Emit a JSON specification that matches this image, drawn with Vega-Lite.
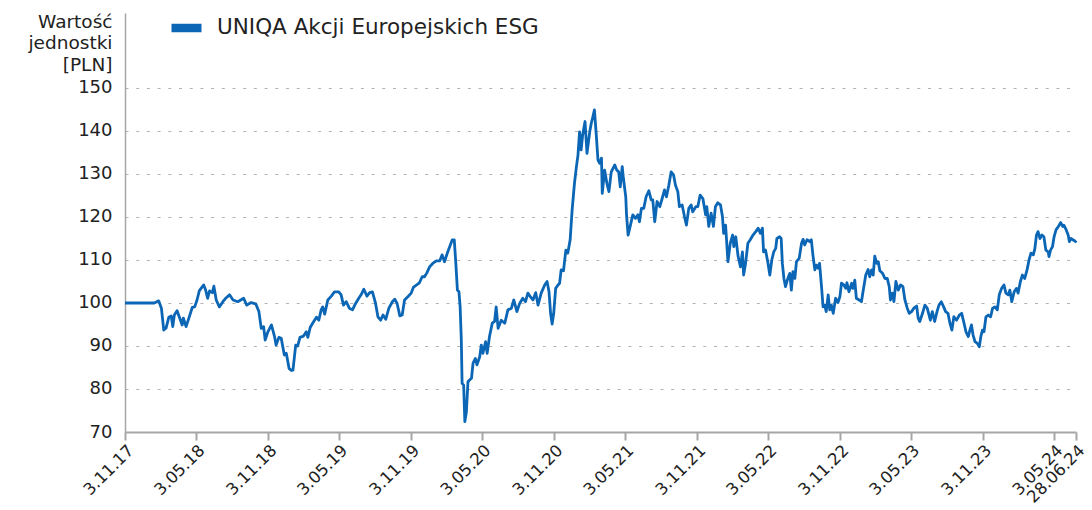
{
  "$schema": "https://vega.github.io/schema/vega-lite/v6.json",
  "width": 951,
  "height": 419,
  "autosize": {"type": "none"},
  "padding": {"left": 125, "top": 13, "right": 16, "bottom": 78},
  "background": "white",
  "config": {"view": {"stroke": null}, "font": "DejaVu Sans"},
  "data": {"values": [
    {"d": "2017-11-03", "v": 100}, {"d": "2017-12-01", "v": 100}, {"d": "2018-01-01", "v": 100}, {"d": "2018-01-17", "v": 100},
    {"d": "2018-01-28", "v": 100.5}, {"d": "2018-02-04", "v": 98.8}, {"d": "2018-02-10", "v": 93.7}, {"d": "2018-02-16", "v": 94.2},
    {"d": "2018-02-23", "v": 96.7}, {"d": "2018-03-01", "v": 97}, {"d": "2018-03-05", "v": 94.5}, {"d": "2018-03-09", "v": 97.2},
    {"d": "2018-03-16", "v": 98.2}, {"d": "2018-03-22", "v": 96.7}, {"d": "2018-03-29", "v": 94.9}, {"d": "2018-04-01", "v": 96.5},
    {"d": "2018-04-08", "v": 94.5}, {"d": "2018-04-17", "v": 97}, {"d": "2018-04-24", "v": 99}, {"d": "2018-04-30", "v": 99.1},
    {"d": "2018-05-06", "v": 100.7}, {"d": "2018-05-12", "v": 102.9}, {"d": "2018-05-23", "v": 104.2}, {"d": "2018-05-28", "v": 103},
    {"d": "2018-06-02", "v": 101.1}, {"d": "2018-06-07", "v": 102.8}, {"d": "2018-06-14", "v": 102.4}, {"d": "2018-06-18", "v": 103.9},
    {"d": "2018-06-24", "v": 100.7}, {"d": "2018-07-02", "v": 99.1}, {"d": "2018-07-11", "v": 100.3}, {"d": "2018-07-18", "v": 101.1},
    {"d": "2018-07-28", "v": 101.9}, {"d": "2018-08-06", "v": 100.7}, {"d": "2018-08-18", "v": 100.3}, {"d": "2018-09-02", "v": 101.1},
    {"d": "2018-09-10", "v": 99.5}, {"d": "2018-09-21", "v": 100.1}, {"d": "2018-10-03", "v": 99.8}, {"d": "2018-10-11", "v": 98},
    {"d": "2018-10-17", "v": 94.1}, {"d": "2018-10-23", "v": 94.5}, {"d": "2018-10-27", "v": 91.4}, {"d": "2018-11-03", "v": 93.3},
    {"d": "2018-11-12", "v": 94.9}, {"d": "2018-11-20", "v": 92.2}, {"d": "2018-11-24", "v": 90.2}, {"d": "2018-12-01", "v": 92},
    {"d": "2018-12-07", "v": 91.8}, {"d": "2018-12-15", "v": 87.9}, {"d": "2018-12-20", "v": 88.3}, {"d": "2018-12-27", "v": 84.8},
    {"d": "2019-01-02", "v": 84.3}, {"d": "2019-01-06", "v": 84.4}, {"d": "2019-01-13", "v": 90.2}, {"d": "2019-01-18", "v": 90},
    {"d": "2019-01-24", "v": 92}, {"d": "2019-02-02", "v": 92.3}, {"d": "2019-02-09", "v": 93.3}, {"d": "2019-02-13", "v": 92},
    {"d": "2019-02-19", "v": 94.3}, {"d": "2019-02-26", "v": 95.4}, {"d": "2019-03-07", "v": 96.7}, {"d": "2019-03-13", "v": 96},
    {"d": "2019-03-19", "v": 98.4}, {"d": "2019-03-23", "v": 99.1}, {"d": "2019-03-28", "v": 97.4}, {"d": "2019-04-05", "v": 100.7},
    {"d": "2019-04-14", "v": 101.6}, {"d": "2019-04-22", "v": 102.6}, {"d": "2019-05-03", "v": 102.6}, {"d": "2019-05-09", "v": 101.9},
    {"d": "2019-05-15", "v": 99.5}, {"d": "2019-05-22", "v": 100.3}, {"d": "2019-05-30", "v": 98.8}, {"d": "2019-06-07", "v": 98.4},
    {"d": "2019-06-15", "v": 99.9}, {"d": "2019-06-23", "v": 101.1}, {"d": "2019-06-29", "v": 101.9}, {"d": "2019-07-06", "v": 103.2},
    {"d": "2019-07-14", "v": 101.6}, {"d": "2019-07-21", "v": 102.4}, {"d": "2019-07-28", "v": 102.6}, {"d": "2019-08-05", "v": 99.9},
    {"d": "2019-08-11", "v": 96.8}, {"d": "2019-08-18", "v": 96}, {"d": "2019-08-24", "v": 97.2}, {"d": "2019-08-31", "v": 96.2},
    {"d": "2019-09-08", "v": 98.8}, {"d": "2019-09-17", "v": 100.3}, {"d": "2019-09-23", "v": 100.9}, {"d": "2019-09-29", "v": 99.9},
    {"d": "2019-10-06", "v": 97}, {"d": "2019-10-12", "v": 97.2}, {"d": "2019-10-18", "v": 100.7}, {"d": "2019-10-27", "v": 101.5},
    {"d": "2019-11-04", "v": 102.3}, {"d": "2019-11-10", "v": 103.7}, {"d": "2019-11-18", "v": 104.2}, {"d": "2019-11-25", "v": 104.7},
    {"d": "2019-12-02", "v": 106.1}, {"d": "2019-12-08", "v": 106.1}, {"d": "2019-12-14", "v": 107}, {"d": "2019-12-21", "v": 108.4},
    {"d": "2019-12-29", "v": 109.2}, {"d": "2020-01-07", "v": 109.8}, {"d": "2020-01-16", "v": 109.8}, {"d": "2020-01-22", "v": 111.2},
    {"d": "2020-01-28", "v": 109.6}, {"d": "2020-02-05", "v": 111.8}, {"d": "2020-02-17", "v": 114.7}, {"d": "2020-02-22", "v": 114.7},
    {"d": "2020-02-26", "v": 109.2}, {"d": "2020-03-01", "v": 103}, {"d": "2020-03-05", "v": 102.6}, {"d": "2020-03-08", "v": 99.1},
    {"d": "2020-03-11", "v": 91.4}, {"d": "2020-03-13", "v": 81.3}, {"d": "2020-03-17", "v": 80.9}, {"d": "2020-03-20", "v": 72.4},
    {"d": "2020-03-24", "v": 74.7}, {"d": "2020-03-28", "v": 81.7}, {"d": "2020-04-01", "v": 82.1}, {"d": "2020-04-06", "v": 82.5},
    {"d": "2020-04-10", "v": 86}, {"d": "2020-04-16", "v": 87.1}, {"d": "2020-04-20", "v": 85.6}, {"d": "2020-04-27", "v": 87.5},
    {"d": "2020-05-01", "v": 90.2}, {"d": "2020-05-05", "v": 88.3}, {"d": "2020-05-12", "v": 91}, {"d": "2020-05-16", "v": 88.3},
    {"d": "2020-05-22", "v": 92.2}, {"d": "2020-05-29", "v": 95.3}, {"d": "2020-06-04", "v": 95.7}, {"d": "2020-06-08", "v": 99.1},
    {"d": "2020-06-13", "v": 94.1}, {"d": "2020-06-21", "v": 96}, {"d": "2020-06-30", "v": 95.3}, {"d": "2020-07-08", "v": 98.4},
    {"d": "2020-07-17", "v": 98.8}, {"d": "2020-07-23", "v": 100.7}, {"d": "2020-07-31", "v": 98}, {"d": "2020-08-07", "v": 99.9},
    {"d": "2020-08-15", "v": 101.1}, {"d": "2020-08-22", "v": 100.3}, {"d": "2020-08-28", "v": 102.3}, {"d": "2020-09-03", "v": 101.5},
    {"d": "2020-09-10", "v": 100.7}, {"d": "2020-09-17", "v": 102.4}, {"d": "2020-09-23", "v": 99.5}, {"d": "2020-10-01", "v": 102.3},
    {"d": "2020-10-10", "v": 104.2}, {"d": "2020-10-16", "v": 105}, {"d": "2020-10-21", "v": 102.6}, {"d": "2020-10-25", "v": 97.6},
    {"d": "2020-10-29", "v": 95.1}, {"d": "2020-11-02", "v": 97.6}, {"d": "2020-11-07", "v": 103.4}, {"d": "2020-11-13", "v": 104.2},
    {"d": "2020-11-17", "v": 104.6}, {"d": "2020-11-21", "v": 107.7}, {"d": "2020-11-27", "v": 107.5}, {"d": "2020-12-03", "v": 112.3},
    {"d": "2020-12-08", "v": 111.6}, {"d": "2020-12-14", "v": 114.7}, {"d": "2020-12-19", "v": 121.6}, {"d": "2020-12-25", "v": 127.8},
    {"d": "2020-12-30", "v": 131.7}, {"d": "2021-01-03", "v": 134.4}, {"d": "2021-01-07", "v": 139.8}, {"d": "2021-01-11", "v": 135.6},
    {"d": "2021-01-15", "v": 139.1}, {"d": "2021-01-21", "v": 142.2}, {"d": "2021-01-26", "v": 134.8}, {"d": "2021-02-02", "v": 139.8},
    {"d": "2021-02-06", "v": 141.8}, {"d": "2021-02-10", "v": 143.3}, {"d": "2021-02-14", "v": 144.9}, {"d": "2021-02-19", "v": 138.7},
    {"d": "2021-02-23", "v": 133.3}, {"d": "2021-02-27", "v": 132.5}, {"d": "2021-03-04", "v": 133.7}, {"d": "2021-03-06", "v": 125.5},
    {"d": "2021-03-12", "v": 130.9}, {"d": "2021-03-18", "v": 127.8}, {"d": "2021-03-23", "v": 125.9}, {"d": "2021-03-29", "v": 130.5},
    {"d": "2021-04-07", "v": 132.1}, {"d": "2021-04-12", "v": 130.9}, {"d": "2021-04-17", "v": 130.5}, {"d": "2021-04-21", "v": 127},
    {"d": "2021-04-26", "v": 131.7}, {"d": "2021-04-29", "v": 129}, {"d": "2021-05-05", "v": 124.7}, {"d": "2021-05-07", "v": 120.5},
    {"d": "2021-05-11", "v": 115.8}, {"d": "2021-05-17", "v": 118.1}, {"d": "2021-05-23", "v": 120.5}, {"d": "2021-05-30", "v": 119.7},
    {"d": "2021-06-05", "v": 120.5}, {"d": "2021-06-09", "v": 118.9}, {"d": "2021-06-14", "v": 122}, {"d": "2021-06-20", "v": 122},
    {"d": "2021-06-26", "v": 124.7}, {"d": "2021-07-03", "v": 126.1}, {"d": "2021-07-09", "v": 124}, {"d": "2021-07-13", "v": 124},
    {"d": "2021-07-18", "v": 118.9}, {"d": "2021-07-24", "v": 123.6}, {"d": "2021-07-31", "v": 122.4}, {"d": "2021-08-06", "v": 124.3},
    {"d": "2021-08-12", "v": 126.3}, {"d": "2021-08-17", "v": 124.7}, {"d": "2021-08-23", "v": 127.4}, {"d": "2021-08-29", "v": 130.5},
    {"d": "2021-09-04", "v": 129.8}, {"d": "2021-09-09", "v": 127.4}, {"d": "2021-09-15", "v": 125.9}, {"d": "2021-09-19", "v": 122.4},
    {"d": "2021-09-26", "v": 122.8}, {"d": "2021-10-02", "v": 120.1}, {"d": "2021-10-07", "v": 118.1}, {"d": "2021-10-13", "v": 122},
    {"d": "2021-10-19", "v": 122.8}, {"d": "2021-10-23", "v": 121.2}, {"d": "2021-10-31", "v": 122.4}, {"d": "2021-11-05", "v": 122.4},
    {"d": "2021-11-11", "v": 125.1}, {"d": "2021-11-18", "v": 124.3}, {"d": "2021-11-25", "v": 120.5}, {"d": "2021-11-28", "v": 122.4},
    {"d": "2021-12-03", "v": 117.8}, {"d": "2021-12-09", "v": 120.9}, {"d": "2021-12-15", "v": 117.8}, {"d": "2021-12-20", "v": 122.4},
    {"d": "2021-12-26", "v": 123.3}, {"d": "2022-01-02", "v": 122.8}, {"d": "2022-01-07", "v": 120.1}, {"d": "2022-01-10", "v": 116.2},
    {"d": "2022-01-15", "v": 118.1}, {"d": "2022-01-21", "v": 109.6}, {"d": "2022-01-27", "v": 113.9}, {"d": "2022-02-02", "v": 115.8},
    {"d": "2022-02-05", "v": 113.1}, {"d": "2022-02-10", "v": 115.4}, {"d": "2022-02-16", "v": 110.8}, {"d": "2022-02-22", "v": 108.4},
    {"d": "2022-02-27", "v": 111.9}, {"d": "2022-03-02", "v": 106.5}, {"d": "2022-03-07", "v": 109.2}, {"d": "2022-03-13", "v": 113.9},
    {"d": "2022-03-19", "v": 114.7}, {"d": "2022-03-26", "v": 115.8}, {"d": "2022-04-02", "v": 116.6}, {"d": "2022-04-08", "v": 117.4},
    {"d": "2022-04-14", "v": 116.2}, {"d": "2022-04-19", "v": 117.4}, {"d": "2022-04-22", "v": 111.9}, {"d": "2022-04-27", "v": 112.3},
    {"d": "2022-05-03", "v": 109.4}, {"d": "2022-05-08", "v": 106.5}, {"d": "2022-05-13", "v": 110}, {"d": "2022-05-18", "v": 111.9},
    {"d": "2022-05-23", "v": 112.7}, {"d": "2022-05-26", "v": 115}, {"d": "2022-06-02", "v": 115.4}, {"d": "2022-06-06", "v": 115},
    {"d": "2022-06-09", "v": 109.2}, {"d": "2022-06-13", "v": 105.7}, {"d": "2022-06-17", "v": 103.8}, {"d": "2022-06-23", "v": 105.7},
    {"d": "2022-06-28", "v": 106.9}, {"d": "2022-07-02", "v": 103}, {"d": "2022-07-06", "v": 107.3}, {"d": "2022-07-11", "v": 105.7},
    {"d": "2022-07-15", "v": 109.6}, {"d": "2022-07-22", "v": 110.4}, {"d": "2022-07-28", "v": 113.9}, {"d": "2022-08-01", "v": 114.8},
    {"d": "2022-08-05", "v": 113.5}, {"d": "2022-08-11", "v": 114.7}, {"d": "2022-08-18", "v": 114.3}, {"d": "2022-08-22", "v": 114.7},
    {"d": "2022-08-26", "v": 111.2}, {"d": "2022-08-31", "v": 107.7}, {"d": "2022-09-04", "v": 108.8}, {"d": "2022-09-08", "v": 108.1},
    {"d": "2022-09-12", "v": 109.2}, {"d": "2022-09-17", "v": 103.8}, {"d": "2022-09-21", "v": 99.1}, {"d": "2022-09-25", "v": 99.5},
    {"d": "2022-09-29", "v": 98}, {"d": "2022-10-04", "v": 101.9}, {"d": "2022-10-08", "v": 98.4}, {"d": "2022-10-12", "v": 99.5},
    {"d": "2022-10-17", "v": 97.6}, {"d": "2022-10-23", "v": 101.1}, {"d": "2022-10-29", "v": 100.1}, {"d": "2022-11-03", "v": 101.5},
    {"d": "2022-11-07", "v": 104.6}, {"d": "2022-11-13", "v": 104.2}, {"d": "2022-11-18", "v": 103.4}, {"d": "2022-11-21", "v": 104.7},
    {"d": "2022-11-26", "v": 102.6}, {"d": "2022-12-03", "v": 104.6}, {"d": "2022-12-06", "v": 103.4}, {"d": "2022-12-11", "v": 105.3},
    {"d": "2022-12-15", "v": 101.1}, {"d": "2022-12-22", "v": 100.7}, {"d": "2022-12-28", "v": 100.3}, {"d": "2023-01-01", "v": 102.6},
    {"d": "2023-01-08", "v": 106.5}, {"d": "2023-01-14", "v": 107.8}, {"d": "2023-01-18", "v": 106.1}, {"d": "2023-01-23", "v": 107.7},
    {"d": "2023-01-27", "v": 106.5}, {"d": "2023-01-31", "v": 110.9}, {"d": "2023-02-05", "v": 109.2}, {"d": "2023-02-09", "v": 109.6},
    {"d": "2023-02-13", "v": 107.5}, {"d": "2023-02-20", "v": 106.9}, {"d": "2023-02-26", "v": 105.7}, {"d": "2023-03-04", "v": 105.7},
    {"d": "2023-03-09", "v": 103.8}, {"d": "2023-03-12", "v": 100.7}, {"d": "2023-03-17", "v": 102.3}, {"d": "2023-03-21", "v": 100.3},
    {"d": "2023-03-26", "v": 105}, {"d": "2023-04-01", "v": 103}, {"d": "2023-04-07", "v": 104.2}, {"d": "2023-04-13", "v": 103.8},
    {"d": "2023-04-18", "v": 100.7}, {"d": "2023-04-24", "v": 98.8}, {"d": "2023-04-29", "v": 97.6}, {"d": "2023-05-05", "v": 98},
    {"d": "2023-05-11", "v": 98.8}, {"d": "2023-05-18", "v": 99.3}, {"d": "2023-05-22", "v": 96.4}, {"d": "2023-05-26", "v": 95.7},
    {"d": "2023-06-02", "v": 97.6}, {"d": "2023-06-08", "v": 99.5}, {"d": "2023-06-14", "v": 98.8}, {"d": "2023-06-22", "v": 96},
    {"d": "2023-06-27", "v": 98}, {"d": "2023-07-03", "v": 95.7}, {"d": "2023-07-09", "v": 98}, {"d": "2023-07-14", "v": 99.5},
    {"d": "2023-07-20", "v": 100.3}, {"d": "2023-07-26", "v": 99.1}, {"d": "2023-07-31", "v": 98}, {"d": "2023-08-06", "v": 97.6},
    {"d": "2023-08-11", "v": 95.3}, {"d": "2023-08-16", "v": 93.7}, {"d": "2023-08-21", "v": 96.8}, {"d": "2023-08-28", "v": 96},
    {"d": "2023-09-04", "v": 97.2}, {"d": "2023-09-10", "v": 97.6}, {"d": "2023-09-15", "v": 95.7}, {"d": "2023-09-21", "v": 93.3},
    {"d": "2023-09-27", "v": 92.2}, {"d": "2023-10-01", "v": 93.7}, {"d": "2023-10-05", "v": 94.9}, {"d": "2023-10-09", "v": 92.6},
    {"d": "2023-10-14", "v": 91}, {"d": "2023-10-20", "v": 90.6}, {"d": "2023-10-25", "v": 89.8}, {"d": "2023-10-29", "v": 92.2},
    {"d": "2023-11-02", "v": 93.7}, {"d": "2023-11-06", "v": 93.3}, {"d": "2023-11-11", "v": 96.8}, {"d": "2023-11-17", "v": 97.2},
    {"d": "2023-11-23", "v": 96.8}, {"d": "2023-11-28", "v": 98.8}, {"d": "2023-12-04", "v": 99.1}, {"d": "2023-12-10", "v": 98.4},
    {"d": "2023-12-15", "v": 101.9}, {"d": "2023-12-21", "v": 103.4}, {"d": "2023-12-27", "v": 104.2}, {"d": "2024-01-01", "v": 102.3},
    {"d": "2024-01-07", "v": 101.9}, {"d": "2024-01-11", "v": 103}, {"d": "2024-01-16", "v": 100.3}, {"d": "2024-01-22", "v": 102.6},
    {"d": "2024-01-28", "v": 103.4}, {"d": "2024-02-01", "v": 102.3}, {"d": "2024-02-07", "v": 105}, {"d": "2024-02-12", "v": 106.5},
    {"d": "2024-02-18", "v": 105.7}, {"d": "2024-02-24", "v": 107.7}, {"d": "2024-02-29", "v": 110}, {"d": "2024-03-05", "v": 111.6},
    {"d": "2024-03-11", "v": 111.2}, {"d": "2024-03-15", "v": 112.7}, {"d": "2024-03-19", "v": 115.8}, {"d": "2024-03-23", "v": 116.6},
    {"d": "2024-03-28", "v": 115}, {"d": "2024-04-02", "v": 115.8}, {"d": "2024-04-07", "v": 115.4}, {"d": "2024-04-12", "v": 112.3},
    {"d": "2024-04-18", "v": 111.9}, {"d": "2024-04-20", "v": 110.8}, {"d": "2024-04-24", "v": 112.3}, {"d": "2024-04-29", "v": 113.1},
    {"d": "2024-05-03", "v": 115.4}, {"d": "2024-05-08", "v": 117}, {"d": "2024-05-14", "v": 117.8}, {"d": "2024-05-20", "v": 118.7},
    {"d": "2024-05-25", "v": 117.8}, {"d": "2024-05-28", "v": 118.1}, {"d": "2024-06-03", "v": 117}, {"d": "2024-06-08", "v": 115.8},
    {"d": "2024-06-11", "v": 114.3}, {"d": "2024-06-15", "v": 115}, {"d": "2024-06-20", "v": 114.7}, {"d": "2024-06-27", "v": 114.3},
    {"d": "2024-06-28", "v": 114.5}
  ]},
  "mark": {"type": "line", "strokeWidth": 2.8, "strokeJoin": "round"},
  "encoding": {
    "x": {
      "field": "d", "type": "temporal",
      "scale": {"type": "utc", "nice": false, "domain": [
        {"year": 2017, "month": 11, "date": 3, "utc": true},
        {"year": 2024, "month": 6, "date": 28, "utc": true}]},
      "axis": {
        "title": null,
        "values": [
          {"year": 2017, "month": 11, "date": 3, "utc": true},
          {"year": 2018, "month": 5, "date": 3, "utc": true},
          {"year": 2018, "month": 11, "date": 3, "utc": true},
          {"year": 2019, "month": 5, "date": 3, "utc": true},
          {"year": 2019, "month": 11, "date": 3, "utc": true},
          {"year": 2020, "month": 5, "date": 3, "utc": true},
          {"year": 2020, "month": 11, "date": 3, "utc": true},
          {"year": 2021, "month": 5, "date": 3, "utc": true},
          {"year": 2021, "month": 11, "date": 3, "utc": true},
          {"year": 2022, "month": 5, "date": 3, "utc": true},
          {"year": 2022, "month": 11, "date": 3, "utc": true},
          {"year": 2023, "month": 5, "date": 3, "utc": true},
          {"year": 2023, "month": 11, "date": 3, "utc": true},
          {"year": 2024, "month": 5, "date": 3, "utc": true},
          {"year": 2024, "month": 6, "date": 28, "utc": true}],
        "format": "%-d.%m.%y",
        "labelAngle": -45,
        "labelFontSize": 16.5,
        "labelColor": "#222222",
        "labelOverlap": false,
        "labelFlush": false,
        "labelPadding": 2,
        "grid": false,
        "domainColor": "#a6a6a6",
        "domainWidth": 2,
        "tickColor": "#a6a6a6",
        "tickWidth": 2,
        "tickSize": 8
      }
    },
    "y": {
      "field": "v", "type": "quantitative",
      "scale": {"domain": [70, 167.44], "nice": false, "zero": false},
      "axis": {
        "values": [70, 80, 90, 100, 110, 120, 130, 140, 150],
        "title": ["Wartość", "jednostki", "[PLN]"],
        "titleAngle": 0,
        "titleAlign": "right",
        "titleBaseline": "alphabetic",
        "titleX": -13,
        "titleY": 14,
        "titleFontSize": 18.5,
        "titleFontWeight": "normal",
        "titleColor": "#222222",
        "titleLineHeight": 21.5,
        "labelFontSize": 18,
        "labelColor": "#222222",
        "labelPadding": 13,
        "ticks": false,
        "domainColor": "#a6a6a6",
        "domainWidth": 1.5,
        "gridColor": "#b3b3b3",
        "gridDash": [3, 7.7],
        "gridWidth": 1
      }
    },
    "color": {
      "datum": "UNIQA Akcji Europejskich ESG",
      "scale": {"range": ["#0b66b5"]},
      "legend": {
        "orient": "none",
        "legendX": 42,
        "legendY": -4.5,
        "title": null,
        "padding": 0,
        "symbolType": "stroke",
        "symbolSize": 900,
        "symbolStrokeWidth": 8.5,
        "labelFontSize": 21.5,
        "labelLimit": 0,
        "labelColor": "#222222",
        "labelOffset": 11
      }
    }
  }
}
